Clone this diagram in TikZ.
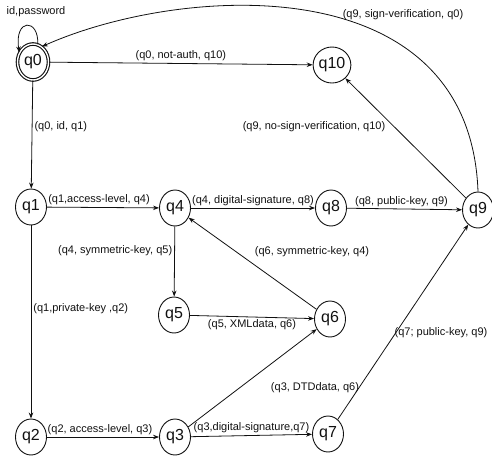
\documentclass[tikz,border=0pt]{standalone}
\usepackage{fontspec}
\setmainfont{Liberation Sans}
\usetikzlibrary{shapes.geometric, arrows.meta}
\definecolor{inkblack}{HTML}{111111}

\begin{document}
\begin{tikzpicture}[x=1pt, y=-1pt, draw=inkblack, text=inkblack,
    font=\fontsize{11}{13}\selectfont,
    state/.style={draw, ellipse, minimum width=31pt, minimum height=36pt, inner sep=0pt,
      line width=0.9pt, font=\fontsize{16}{16}\selectfont},
    trans/.style={-{Stealth[length=6pt, width=4.5pt]}, line width=0.8pt},
    tlabel/.style={inner sep=2pt}]
  \useasboundingbox (0,0) rectangle (492,458);
  % states
  \node[state, double, double distance=1.4pt, line width=1.1pt] (q0) at (33,62) {q0};
  \foreach \name/\x/\y in {q10/332/65, q1/31/207, q4/175/208, q8/331/208, q9/478/210,
      q5/174/315, q6/330/319, q2/31/437, q3/175/437, q7/328/434}
    \node[state] (\name) at (\x,\y) {\name};
  % straight transitions
  \draw[trans] (q0) -- node[tlabel, above] (lnotauth) {(q0, not-auth, q10)} (q10);
  \draw[trans] (q0) -- node[tlabel, right, pos=0.43] (lid) {(q0, id, q1)} (q1);
  \draw[trans] (q1) -- node[tlabel, above, xshift=-4pt] (lacc) {(q1,access-level, q4)} (q4);
  \draw[trans] (q4) -- node[tlabel, above] (ldig) {(q4, digital-signature, q8)} (q8);
  \draw[trans] (q8) -- node[tlabel, above, xshift=-3pt] (lpub) {(q8, public-key, q9)} (q9);
  \draw[trans] (q4) -- node[tlabel, left, pos=0.35] (lsym) {(q4, symmetric-key, q5)} (q5);
  \draw[trans] (q1) -- node[tlabel, right, pos=0.43] (lpriv) {(q1,private-key ,q2)} (q2);
  \draw[trans] (q5) -- node[tlabel, below] (lxml) {(q5, XMLdata, q6)} (q6);
  \draw[trans] (q2) -- node[tlabel, above, xshift=-3pt] (lacc2) {(q2, access-level, q3)} (q3);
  \draw[trans] (q3) -- node[tlabel, above] (ldig2) {(q3,digital-signature,q7)} (q7);
  % diagonal transitions
  \draw[trans] (q9) -- (q10);
  \draw[trans] (q6) -- (q4);
  \draw[trans] (q3) -- (q6);
  \draw[trans] (q7) -- (q9);
  \node[tlabel] (lnosign) at (314,127) {(q9, no-sign-verification, q10)};
  \node[tlabel] (lsym2) at (312,252) {(q6, symmetric-key, q4)};
  \node[tlabel] (ldtd) at (315,388) {(q3, DTDdata, q6)};
  \node[tlabel] (lpub2) at (441,333) {(q7; public-key, q9)};
  % back to start and self loop
  \draw[trans] (q9.north) .. controls (470,-35) and (180,-15) .. (q0.60);
  \node[tlabel] (lsign) at (403,15) {(q9, sign-verification, q0)};
  \draw[trans] (q0.75) .. controls (39,18) and (14,18) .. (q0.145);
  \node[tlabel] (lpass) at (36,12) {id,password};
\end{tikzpicture}
\end{document}
